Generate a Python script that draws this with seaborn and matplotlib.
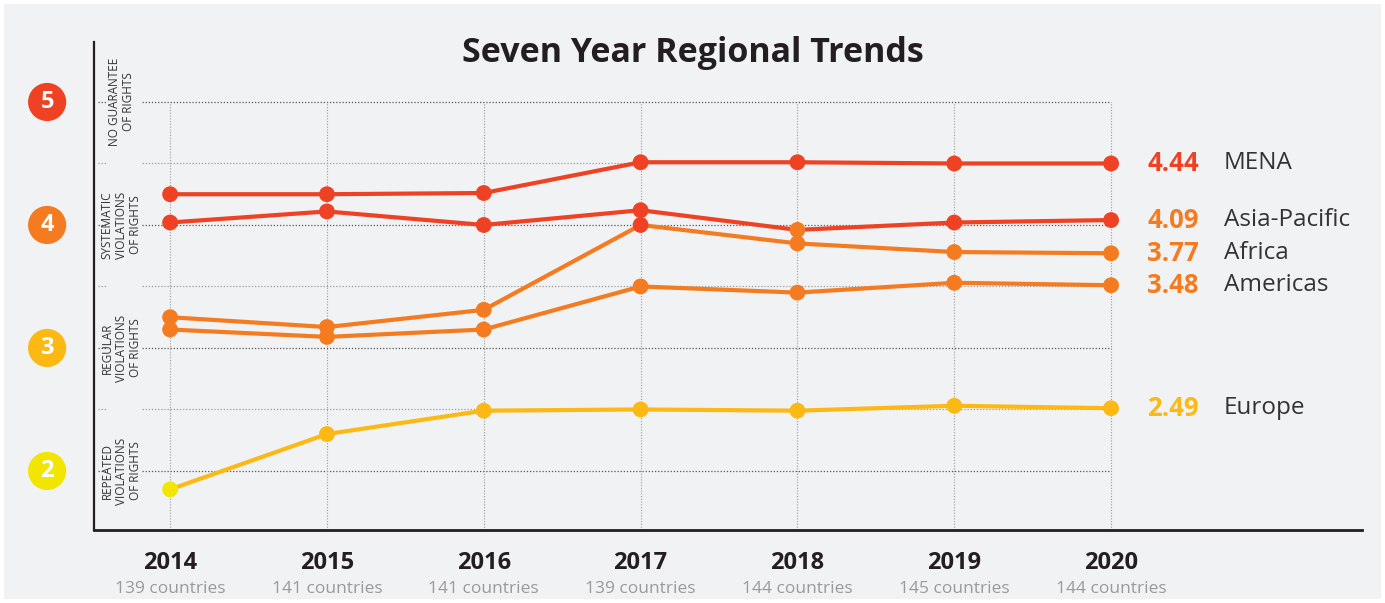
import matplotlib.pyplot as plt
import matplotlib.transforms as mtransforms
from matplotlib.patches import Rectangle
import numpy as np
import pandas as pd
import seaborn as sns

years = [2014, 2015, 2016, 2017, 2018, 2019, 2020]
country_counts = ["139 countries", "141 countries", "141 countries", "139 countries",
                  "144 countries", "145 countries", "144 countries"]

regions = ["MENA", "Asia-Pacific", "Africa", "Americas", "Europe"]
mena = [4.25, 4.25, 4.26, 4.51, 4.51, 4.50, 4.50]
asia_pacific = [4.02, 4.11, 4.00, 4.12, 3.96, 4.02, 4.04]
africa = [3.25, 3.17, 3.31, 4.00, 3.85, 3.78, 3.77]
americas = [3.15, 3.09, 3.15, 3.50, 3.45, 3.53, 3.51]
europe = [1.85, 2.30, 2.49, 2.50, 2.49, 2.53, 2.51]
latest_labels = ["4.44", "4.09", "3.77", "3.48", "2.49"]

levels = [5, 4, 3, 2]
level_names = ["NO GUARANTEE\nOF RIGHTS",
               "SYSTEMATIC\nVIOLATIONS\nOF RIGHTS",
               "REGULAR\nVIOLATIONS\nOF RIGHTS",
               "REPEATED\nVIOLATIONS\nOF RIGHTS"]

RED = "#EF4123"
ORANGE = "#F47B20"
AMBER = "#FDB913"
YELLOW = "#F2E500"
BG = "#F1F2F4"
DARK = "#231F20"

line_colors = {"MENA": RED, "Asia-Pacific": RED, "Africa": ORANGE,
               "Americas": ORANGE, "Europe": AMBER}
label_colors = [RED, ORANGE, ORANGE, ORANGE, AMBER]
level_colors = [RED, ORANGE, AMBER, YELLOW]
band_colors = {"5": RED, "4": ORANGE, "3": AMBER, "2": YELLOW}


def band(v):
    # marker colour follows the score band, not the region
    if v >= 4:
        return "5"
    if v >= 3:
        return "4"
    if v >= 2:
        return "3"
    return "2"


df = pd.DataFrame({
    "year": years * len(regions),
    "region": np.repeat(regions, len(years)),
    "score": mena + asia_pacific + africa + americas + europe,
})
df["band"] = df["score"].apply(band)

sns.set_theme(style="white")
plt.rcParams["font.family"] = ["Open Sans", "DejaVu Sans"]

fig = plt.figure(figsize=(13.85, 6.03), dpi=100, facecolor="white")
fig.add_artist(Rectangle((4 / 1385, 4 / 603), 1 - 8 / 1385, 1 - 8 / 603,
                         transform=fig.transFigure, facecolor=BG,
                         edgecolor="none", zorder=-10))

ax = fig.add_axes([0.0679, 0.1211, 0.9155, 0.8093])
ax.set_facecolor("none")
ax.set_xlim(2013.515, 2021.6)
ax.set_ylim(1.52, 5.488)

# grid (with a gap left for the rotated level labels)
for y in np.arange(2, 5.01, 0.5):
    major = float(y).is_integer()
    col = "#555555" if major else "#9a9a9a"
    ax.hlines(y, 2013.54, 2013.60, colors=col, linestyles=(0, (1, 1.5)),
              linewidth=0.9, zorder=1)
    ax.hlines(y, 2013.82, 2020, colors=col, linestyles=(0, (1, 1.5)),
              linewidth=0.9, zorder=1)
ax.vlines(years, 1.52, 5, colors="#9a9a9a", linestyles=(0, (1, 1.5)),
          linewidth=0.8, zorder=1)

sns.lineplot(data=df, x="year", y="score", hue="region", palette=line_colors,
             linewidth=3, legend=False, ax=ax, zorder=3)
sns.scatterplot(data=df, x="year", y="score", hue="band", palette=band_colors,
                s=130, linewidth=0, legend=False, ax=ax, zorder=4)

for s in ["top", "right"]:
    ax.spines[s].set_visible(False)
ax.spines["left"].set_color(DARK)
ax.spines["left"].set_linewidth(1.6)
ax.spines["bottom"].set_color(DARK)
ax.spines["bottom"].set_linewidth(2)
ax.set_xticks([])
ax.set_yticks([])
ax.set_xlabel("")
ax.set_ylabel("")

# x labels
xt = mtransforms.blended_transform_factory(ax.transData, ax.transAxes)
for yr, cnt in zip(years, country_counts):
    ax.annotate(str(yr), xy=(yr, 0), xycoords=xt, xytext=(0, -23.5),
                textcoords="offset points", ha="center", va="center",
                fontsize=17, fontweight="bold", color=DARK, annotation_clip=False)
    ax.annotate(cnt, xy=(yr, 0), xycoords=xt, xytext=(0, -42.5),
                textcoords="offset points", ha="center", va="center",
                fontsize=12.5, color="#9a9a9a", annotation_clip=False)

# left level markers
yt = mtransforms.blended_transform_factory(ax.transAxes, ax.transData)
ax.scatter([-0.037] * len(levels), levels, s=700, c=level_colors,
           transform=yt, clip_on=False, zorder=5)
for lv, name in zip(levels, level_names):
    ax.text(-0.037, lv, str(lv), transform=yt, ha="center", va="center",
            fontsize=17, fontweight="bold", color="white", zorder=6)
    ax.text(0.0213, lv, name, transform=yt, ha="center", va="center",
            rotation=90, fontsize=8.5, color="#333333", linespacing=1.1)

# right labels
for reg, lab, col in zip(regions, latest_labels, label_colors):
    last = df[(df.region == reg) & (df.year == years[-1])]["score"].iloc[0]
    ax.annotate(lab, xy=(years[-1], last), xytext=(26, 0),
                textcoords="offset points", ha="left", va="center",
                fontsize=18.5, fontweight="bold", color=col, annotation_clip=False)
    ax.annotate(reg, xy=(years[-1], last), xytext=(81, 0),
                textcoords="offset points", ha="left", va="center",
                fontsize=17.5, color="#333333", annotation_clip=False)

fig.text(0.5, 1 - 53 / 603, "Seven Year Regional Trends", ha="center",
         va="center", fontsize=24.5, fontweight="bold", color=DARK)

fig.savefig("out.png", dpi=100, facecolor="white")
